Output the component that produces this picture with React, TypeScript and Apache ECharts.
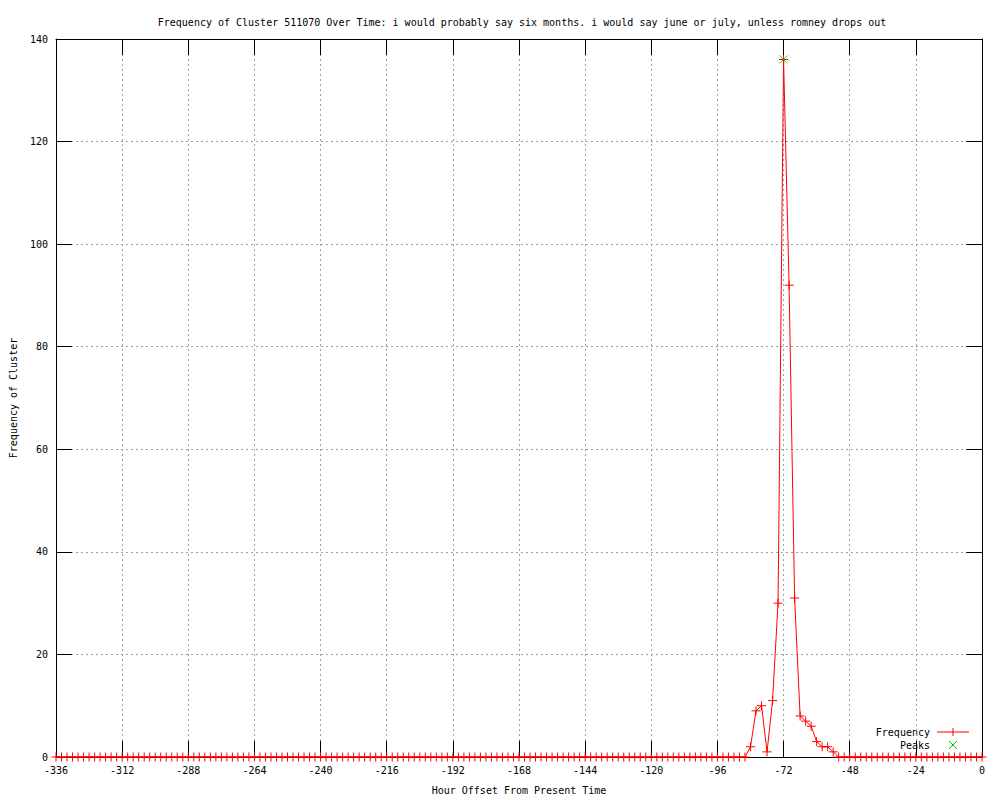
import React, { useEffect, useRef } from "react";
import * as echarts from "echarts";

const titleText =
  "Frequency of Cluster 511070 Over Time: i would probably say six months. i would say june or july, unless romney drops out";
const xAxisName = "Hour Offset From Present Time";
const yAxisName = "Frequency of Cluster";

const hours = [
  -336, -334, -332, -330, -328, -326, -324, -322, -320, -318, -316, -314,
  -312, -310, -308, -306, -304, -302, -300, -298, -296, -294, -292, -290,
  -288, -286, -284, -282, -280, -278, -276, -274, -272, -270, -268, -266,
  -264, -262, -260, -258, -256, -254, -252, -250, -248, -246, -244, -242,
  -240, -238, -236, -234, -232, -230, -228, -226, -224, -222, -220, -218,
  -216, -214, -212, -210, -208, -206, -204, -202, -200, -198, -196, -194,
  -192, -190, -188, -186, -184, -182, -180, -178, -176, -174, -172, -170,
  -168, -166, -164, -162, -160, -158, -156, -154, -152, -150, -148, -146,
  -144, -142, -140, -138, -136, -134, -132, -130, -128, -126, -124, -122,
  -120, -118, -116, -114, -112, -110, -108, -106, -104, -102, -100, -98,
  -96, -94, -92, -90, -88, -86, -84, -82, -80, -78, -76, -74,
  -72, -70, -68, -66, -64, -62, -60, -58, -56, -54, -52, -50,
  -48, -46, -44, -42, -40, -38, -36, -34, -32, -30, -28, -26,
  -24, -22, -20, -18, -16, -14, -12, -10, -8, -6, -4, -2,
  0,
];

const frequency = [
  0, 0, 0, 0, 0, 0, 0, 0, 0, 0, 0, 0,
  0, 0, 0, 0, 0, 0, 0, 0, 0, 0, 0, 0,
  0, 0, 0, 0, 0, 0, 0, 0, 0, 0, 0, 0,
  0, 0, 0, 0, 0, 0, 0, 0, 0, 0, 0, 0,
  0, 0, 0, 0, 0, 0, 0, 0, 0, 0, 0, 0,
  0, 0, 0, 0, 0, 0, 0, 0, 0, 0, 0, 0,
  0, 0, 0, 0, 0, 0, 0, 0, 0, 0, 0, 0,
  0, 0, 0, 0, 0, 0, 0, 0, 0, 0, 0, 0,
  0, 0, 0, 0, 0, 0, 0, 0, 0, 0, 0, 0,
  0, 0, 0, 0, 0, 0, 0, 0, 0, 0, 0, 0,
  0, 0, 0, 0, 0, 0, 2, 9, 10, 1, 11, 30,
  136, 92, 31, 8, 7, 6, 3, 2, 2, 1, 0, 0,
  0, 0, 0, 0, 0, 0, 0, 0, 0, 0, 0, 0,
  0, 0, 0, 0, 0, 0, 0, 0, 0, 0, 0, 0,
  0,
];

const peakHours = [-72];
const peakValues = [136];

const PLUS = "path://M0,5 L10,5 M5,0 L5,10";
const CROSS = "path://M0,0 L10,10 M10,0 L0,10";
const FONT = "DejaVu Sans Mono";

export default function App() {
  const ref = useRef<HTMLDivElement>(null);
  useEffect(() => {
    if (!ref.current) return;
    const chart = echarts.init(ref.current, null, { renderer: "svg" });
    const tickInside = { show: true, inside: true, length: 16, lineStyle: { color: "#000", width: 1 } };
    const axisLine = { show: true, onZero: false, lineStyle: { color: "#000", width: 1 } };
    const labelStyle = { color: "#000", fontFamily: FONT, fontSize: 10 };
    const split = { show: true, lineStyle: { color: "#a0a0a0", type: [2, 3], width: 1 } };
    chart.setOption({
      animation: false,
      backgroundColor: "#fff",
      title: {
        text: titleText,
        left: 517,
        top: 12,
        textAlign: "center",
        textStyle: { fontFamily: FONT, fontSize: 10, fontWeight: "normal", color: "#000" },
      },
      grid: { left: 55, right: 18, top: 39, bottom: 40, containLabel: false },
      xAxis: [
        {
          type: "value",
          min: -336,
          max: 0,
          interval: 24,
          position: "bottom",
          name: xAxisName,
          nameLocation: "middle",
          nameGap: 28,
          nameTextStyle: labelStyle,
          axisLine,
          axisTick: tickInside,
          axisLabel: { ...labelStyle, margin: 8 },
          splitLine: split,
        },
        {
          type: "value",
          min: -336,
          max: 0,
          interval: 24,
          position: "top",
          axisLine,
          axisTick: tickInside,
          axisLabel: { show: false },
          splitLine: { show: false },
        },
      ],
      yAxis: [
        {
          type: "value",
          min: 0,
          max: 140,
          interval: 20,
          position: "left",
          name: yAxisName,
          nameLocation: "middle",
          nameGap: 38,
          nameRotate: 90,
          nameTextStyle: labelStyle,
          axisLine,
          axisTick: tickInside,
          axisLabel: { ...labelStyle, margin: 8 },
          splitLine: split,
        },
        {
          type: "value",
          min: 0,
          max: 140,
          interval: 20,
          position: "right",
          axisLine,
          axisTick: tickInside,
          axisLabel: { show: false },
          splitLine: { show: false },
        },
      ],
      series: [
        {
          type: "line",
          name: "Frequency",
          data: hours.map((h, i) => [h, frequency[i]]),
          xAxisIndex: 0,
          yAxisIndex: 0,
          lineStyle: { color: "#ff0000", width: 1 },
          symbol: PLUS,
          symbolSize: 9,
          showAllSymbol: true,
          itemStyle: { color: "none", borderColor: "#ff0000", borderWidth: 1 },
          z: 3,
        },
        {
          type: "scatter",
          name: "Peaks",
          data: peakHours.map((h, i) => [h, peakValues[i]]),
          symbol: CROSS,
          symbolSize: 8,
          itemStyle: { color: "none", borderColor: "#00c000", borderWidth: 1 },
          z: 4,
        },
      ],
      graphic: [
        {
          type: "text",
          right: 70,
          top: 727,
          style: { text: "Frequency", fill: "#000", font: `10px ${FONT}`, textAlign: "right" },
        },
        {
          type: "text",
          right: 70,
          top: 740,
          style: { text: "Peaks", fill: "#000", font: `10px ${FONT}`, textAlign: "right" },
        },
        {
          type: "line",
          shape: { x1: 937, y1: 732, x2: 969, y2: 732 },
          style: { stroke: "#ff0000", lineWidth: 1 },
        },
        {
          type: "line",
          shape: { x1: 953, y1: 728, x2: 953, y2: 736 },
          style: { stroke: "#ff0000", lineWidth: 1 },
        },
        {
          type: "line",
          shape: { x1: 949, y1: 741, x2: 957, y2: 749 },
          style: { stroke: "#00c000", lineWidth: 1 },
        },
        {
          type: "line",
          shape: { x1: 957, y1: 741, x2: 949, y2: 749 },
          style: { stroke: "#00c000", lineWidth: 1 },
        },
      ],
    });
    return () => chart.dispose();
  }, []);
  return <div ref={ref} style={{ width: 1000, height: 800, position: "absolute", left: 0, top: 0 }} />;
}
